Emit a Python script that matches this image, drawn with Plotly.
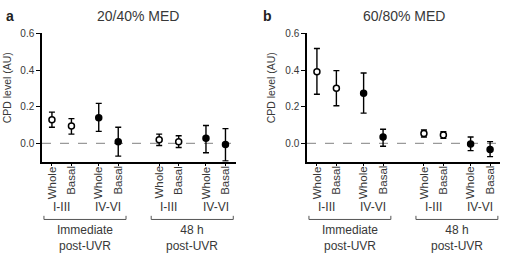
import plotly.graph_objects as go

W, H = 525, 258

# ---- data ----
tick_labels = ["Whole", "Basal", "Whole", "Basal", "Whole", "Basal", "Whole", "Basal"]
x_pos = [0, 1, 2.4, 3.4, 5.5, 6.5, 7.9, 8.9]
skin_types = ["I-III", "IV-VI", "I-III", "IV-VI"]
timepoints = ["Immediate<br>post-UVR", "48 h<br>post-UVR"]
open_idx = [0, 1, 4, 5]      # I-III: open circles
filled_idx = [2, 3, 6, 7]    # IV-VI: filled circles

panel_titles = ["20/40% MED", "60/80% MED"]
panel_letters = ["a", "b"]

means_a = [0.128, 0.095, 0.14, 0.008, 0.02, 0.009, 0.027, -0.007]
up_a = [0.042, 0.04, 0.078, 0.08, 0.03, 0.032, 0.07, 0.087]
dn_a = [0.04, 0.045, 0.075, 0.078, 0.032, 0.032, 0.079, 0.09]

means_b = [0.391, 0.30, 0.273, 0.034, 0.054, 0.045, -0.004, -0.034]
up_b = [0.127, 0.097, 0.111, 0.043, 0.019, 0.018, 0.038, 0.043]
dn_b = [0.123, 0.095, 0.108, 0.05, 0.02, 0.018, 0.036, 0.039]

y_ticks = [0.0, 0.2, 0.4, 0.6]

FONT = "Arial, Liberation Sans, Helvetica, sans-serif"
TXT = "#383838"


def py(p):
    return (H - p) / H


fig = go.Figure()

panels = [
    dict(means=means_a, up=up_a, dn=dn_a, xa="x", ya="y", xdom=[42 / W, 236 / W], xr=[-0.51, 9.44]),
    dict(means=means_b, up=up_b, dn=dn_b, xa="x2", ya="y2", xdom=[307 / W, 500 / W], xr=[-0.51, 9.41]),
]

for p in panels:
    for idxs, fill in ((open_idx, "white"), (filled_idx, "black")):
        fig.add_trace(go.Scatter(
            x=[x_pos[i] for i in idxs],
            y=[p["means"][i] for i in idxs],
            mode="markers",
            xaxis=p["xa"], yaxis=p["ya"],
            marker=dict(size=6, color=fill, line=dict(color="black", width=1.5), symbol="circle"),
            error_y=dict(type="data", symmetric=False,
                         array=[p["up"][i] for i in idxs],
                         arrayminus=[p["dn"][i] for i in idxs],
                         color="black", thickness=1.4, width=3),
            cliponaxis=False,
            showlegend=False,
        ))

ydom = [py(159.7), py(29)]
axis_common = dict(showgrid=False, zeroline=False, showline=True, linecolor="black", linewidth=1.5)

layout = dict(
    width=W, height=H,
    margin=dict(l=0, r=0, t=0, b=0),
    paper_bgcolor="white", plot_bgcolor="white",
    font=dict(family=FONT, color=TXT),
    showlegend=False,
)
for k, p in enumerate(panels):
    sx = "" if k == 0 else "2"
    layout["xaxis" + sx] = dict(
        domain=p["xdom"], range=p["xr"], anchor="y" + sx,
        tickvals=x_pos, showticklabels=False,
        ticks="outside", ticklen=3, tickwidth=1, tickcolor="black",
        **axis_common,
    )
    layout["yaxis" + sx] = dict(
        domain=ydom, range=[-0.1, 0.6], anchor="x" + sx,
        tickvals=y_ticks, ticktext=[f"{v:.1f}" for v in y_ticks],
        ticks="outside", ticklen=4, tickwidth=1.2, tickcolor="black",
        tickfont=dict(size=10, color=TXT, family=FONT),
        **axis_common,
    )
fig.update_layout(**layout)

shapes = []
annotations = []
title_x = [137.5 / W, 404 / W]
letter_x = [10 / W, 267 / W]
ytitle_x = [7 / W, 271 / W]

for k, p in enumerate(panels):
    xa = p["xa"]
    # dashed zero line
    shapes.append(dict(type="line", xref=xa + " domain", yref=p["ya"], x0=0, x1=1, y0=0, y1=0,
                       line=dict(color="#9a9a9a", width=1.2, dash="dash"), layer="below"))
    # rotated category labels
    for xv, lab in zip(x_pos, tick_labels):
        annotations.append(dict(xref=xa, yref="paper", x=xv, y=py(162), text=lab, textangle=-90,
                                showarrow=False, font=dict(size=11.5, color=TXT),
                                xanchor="center", yanchor="top"))
    # skin type labels
    for j, st in enumerate(skin_types):
        xc = (x_pos[2 * j] + x_pos[2 * j + 1]) / 2
        annotations.append(dict(xref=xa, yref="paper", x=xc, y=py(205.5), text=st, showarrow=False,
                                font=dict(size=12, color=TXT), xanchor="center", yanchor="middle"))
    # brackets and timepoint labels
    for g in range(2):
        x0 = x_pos[4 * g] - 0.41
        x1 = x_pos[4 * g + 3] + 0.4
        yb, yt = py(218.7), py(215)
        shapes.append(dict(type="path", xref=xa, yref="paper",
                           path=f"M {x0},{yt} L {x0},{yb} L {x1},{yb} L {x1},{yt}",
                           line=dict(color="#555555", width=1)))
        annotations.append(dict(xref=xa, yref="paper", x=(x0 + x1) / 2, y=py(237.5),
                                text=timepoints[g], showarrow=False, align="center",
                                font=dict(size=12, color=TXT), xanchor="center", yanchor="middle"))
    # title and panel letter
    annotations.append(dict(xref="paper", yref="paper", x=title_x[k], y=py(11), text=panel_titles[k],
                            showarrow=False, font=dict(size=14, color=TXT), xanchor="center", yanchor="middle"))
    annotations.append(dict(xref="paper", yref="paper", x=letter_x[k], y=py(11),
                            text=f"<b>{panel_letters[k]}</b>", showarrow=False,
                            font=dict(size=14, color="#222222"), xanchor="center", yanchor="middle"))
    # y-axis title
    annotations.append(dict(xref="paper", yref="paper", x=ytitle_x[k], y=py(85), text="CPD level (AU)",
                            textangle=-90, showarrow=False, font=dict(size=10.5, color=TXT),
                            xanchor="center", yanchor="middle"))

fig.update_layout(shapes=shapes, annotations=annotations)
fig.write_html("out.html")
